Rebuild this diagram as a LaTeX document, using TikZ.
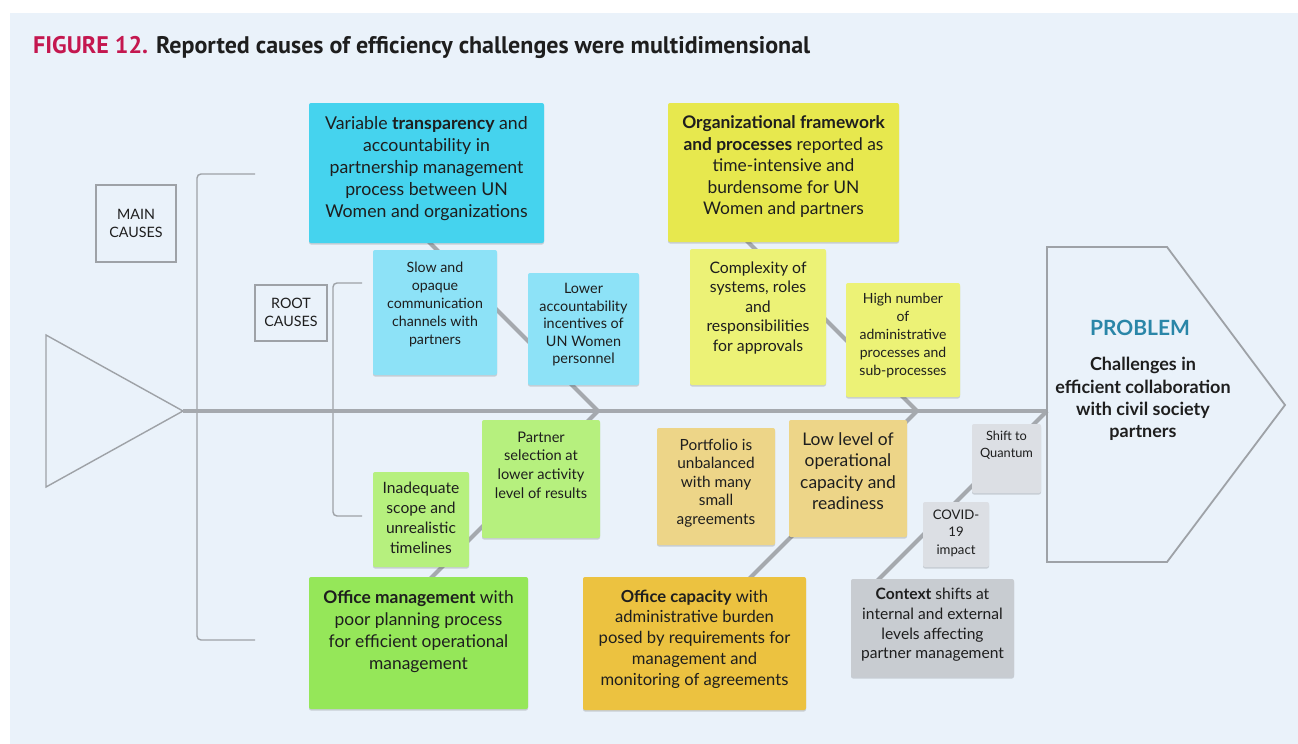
\documentclass[tikz,border=0pt]{standalone}
\usepackage{fontspec}
\setmainfont{Lato}
\newfontfamily\titlefont{PT Sans}
\usetikzlibrary{shadows}
\definecolor{panel}{HTML}{EAF2FA}
\definecolor{crimson}{HTML}{C4174F}
\definecolor{ink}{HTML}{1E1E1E}
\definecolor{teal}{HTML}{2A86A8}
\definecolor{linegray}{HTML}{9EA2A7}
\definecolor{bonegray}{HTML}{A5A9AE}
\definecolor{cMa}{HTML}{45D3EE}
\definecolor{cRa}{HTML}{8DE2F7}
\definecolor{cMb}{HTML}{E7E84E}
\definecolor{cRb}{HTML}{ECF276}
\definecolor{cMc}{HTML}{95E759}
\definecolor{cRc}{HTML}{B6F07E}
\definecolor{cMd}{HTML}{ECC240}
\definecolor{cRd}{HTML}{EDD588}
\definecolor{cMe}{HTML}{C8CCD1}
\definecolor{cRe}{HTML}{DCDFE4}
\tikzset{
  card/.style={rectangle, rounded corners=2pt, inner sep=0pt, draw=none,
    drop shadow={shadow xshift=0pt, shadow yshift=-1.5pt, opacity=0.15, fill=black}},
  txt/.style={align=center, text=ink, inner sep=0pt},
  fs/.style 2 args={font=\fontsize{#1}{#2}\selectfont},
  thinline/.style={draw=linegray, line width=1.4pt},
  bone/.style={draw=bonegray, line width=4pt},
  legend/.style={rectangle, draw=linegray, line width=1.2pt, fill=none, inner sep=0pt}
}
\begin{document}
\begin{tikzpicture}[x=1pt,y=-1pt]
\useasboundingbox (0,0) rectangle (1298,744);
\fill[white] (0,0) rectangle (1298,744);
\fill[panel] (10,13) rectangle (1298,744);

% title
\node[anchor=base west, inner sep=0pt, text=ink] (title) at (33,53)
  {\resizebox{777pt}{\height}{\titlefont\bfseries\fontsize{24}{28}\selectfont\textcolor{crimson}{FIGURE 12.} Reported causes of efficiency challenges were multidimensional}};

% head triangle
\coordinate (tip) at (183,411);
\draw[thinline] (46,335) -- (46,487) -- (tip) -- cycle;

% brackets
\draw[thinline, rounded corners=4pt] (255,174) -- (197,174) -- (197,640) -- (255,640);
\draw[thinline, rounded corners=4pt] (362,283) -- (333,283) -- (333,516) -- (362,516);

% legend boxes
\node[legend, minimum width=80pt, minimum height=77pt] (mainlbl) at (136,223.5) {};
\node[txt, fs={14.3}{18}] (mainlbl-t) at (136,223) {MAIN\\CAUSES};
\node[legend, minimum width=72pt, minimum height=56pt] (rootlbl) at (291,313) {};
\node[txt, fs={14.3}{18}] (rootlbl-t) at (291,312) {ROOT\\CAUSES};

% junctions
\coordinate (j1) at (598,411);
\coordinate (j2) at (917,411);
\coordinate (j3) at (1047,411);

% spine and bones
\draw[bone] (j1) ++(-170,-170) -- (j1) -- ++(-170,170);
\draw[bone] (j2) ++(-172,-172) -- (j2) -- ++(-172,172);
\draw[bone] (j3) -- ++(-172,172);
\draw[draw=bonegray, line width=4.5pt] (tip) -- (j3);

% problem
\draw[draw=linegray, line width=1.8pt] (j3 |- 0,247) -- (1167,247) -- (1285,405) -- (1167,562) -- (1047,562) -- cycle;
\node[txt, text=teal, font=\bfseries\fontsize{21}{24}\selectfont] (probhead) at (1140,328) {PROBLEM};
\node[txt, font=\bfseries\fontsize{18}{22.3}\selectfont] (prob) at (1143,399) {Challenges in\\efficient collaboration\\with civil society\\partners};

% main causes
\node[card, fill=cMa, minimum width=235pt, minimum height=140pt] (m1) at (426.5,173) {};
\node[txt, fs={17.7}{22}] (m1-t) at (426.5,169) {Variable \textbf{transparency} and\\accountability in\\partnership management\\process between UN\\Women and organizations};

\node[card, fill=cMb, minimum width=231pt, minimum height=139pt] (m2) at (783.5,172.5) {};
\node[txt, fs={17.4}{21.5}] (m2-t) at (783.5,167) {\textbf{Organizational framework}\\\textbf{and processes} reported as\\time-intensive and\\burdensome for UN\\Women and partners};

\node[card, fill=cMc, minimum width=219pt, minimum height=132pt] (m3) at (418.5,643) {};
\node[txt, fs={17.4}{22}] (m3-t) at (418.5,632) {\textbf{Office management} with\\poor planning process\\for efficient operational\\management};

\node[card, fill=cMd, minimum width=223pt, minimum height=133pt] (m4) at (694.5,643.5) {};
\node[txt, fs={16.6}{20.7}] (m4-t) at (694.5,639) {\textbf{Office capacity} with\\administrative burden\\posed by requirements for\\management and\\monitoring of agreements};

\node[card, fill=cMe, minimum width=163pt, minimum height=98pt] (m5) at (932.5,628) {};
\node[txt, fs={15.6}{19.7}] (m5-t) at (932.5,625) {\textbf{Context} shifts at\\internal and external\\levels affecting\\partner management};

% root causes top
\node[card, fill=cRa, minimum width=124pt, minimum height=125pt] (r1) at (435,312.5) {};
\node[txt, fs={14.2}{18}] (r1-t) at (435,304) {Slow and\\opaque\\communication\\channels with\\partners};

\node[card, fill=cRa, minimum width=111pt, minimum height=112pt] (r2) at (583.5,329) {};
\node[txt, fs={14.4}{17.5}] (r2-t) at (583.5,325) {Lower\\accountability\\incentives of\\UN Women\\personnel};

\node[card, fill=cRb, minimum width=136pt, minimum height=136pt] (r3) at (758,317) {};
\node[txt, fs={15.8}{19.5}] (r3-t) at (758,308) {Complexity of\\systems, roles\\and\\responsibilities\\for approvals};

\node[card, fill=cRb, minimum width=114pt, minimum height=114pt] (r4) at (903,340) {};
\node[txt, fs={14}{18}] (r4-t) at (903,336) {High number\\of\\administrative\\processes and\\sub-processes};

% root causes bottom
\node[card, fill=cRc, minimum width=118pt, minimum height=118pt] (r5) at (541,479) {};
\node[txt, fs={14.6}{18.7}] (r5-t) at (541,465) {Partner\\selection at\\lower activity\\level of results};

\node[card, fill=cRc, minimum width=96pt, minimum height=95pt] (r6) at (421,519.5) {};
\node[txt, fs={15.6}{20}] (r6-t) at (421,518) {Inadequate\\scope and\\unrealistic\\timelines};

\node[card, fill=cRd, minimum width=118pt, minimum height=117pt] (r7) at (716,486.5) {};
\node[txt, fs={15.4}{18.5}] (r7-t) at (716,483) {Portfolio is\\unbalanced\\with many\\small\\agreements};

\node[card, fill=cRd, minimum width=118pt, minimum height=117pt] (r8) at (848,478.5) {};
\node[txt, fs={17.4}{21.4}] (r8-t) at (848,471) {Low level of\\operational\\capacity and\\readiness};

\node[card, fill=cRe, minimum width=69pt, minimum height=69pt] (r9) at (1006.5,458.5) {};
\node[txt, fs={12.8}{17}] (r9-t) at (1006.5,445) {Shift to\\Quantum};

\node[card, fill=cRe, minimum width=66pt, minimum height=65pt] (r10) at (956,534.5) {};
\node[txt, fs={13.2}{17.5}] (r10-t) at (956,533) {COVID-\\19\\impact};
\end{tikzpicture}
\end{document}
